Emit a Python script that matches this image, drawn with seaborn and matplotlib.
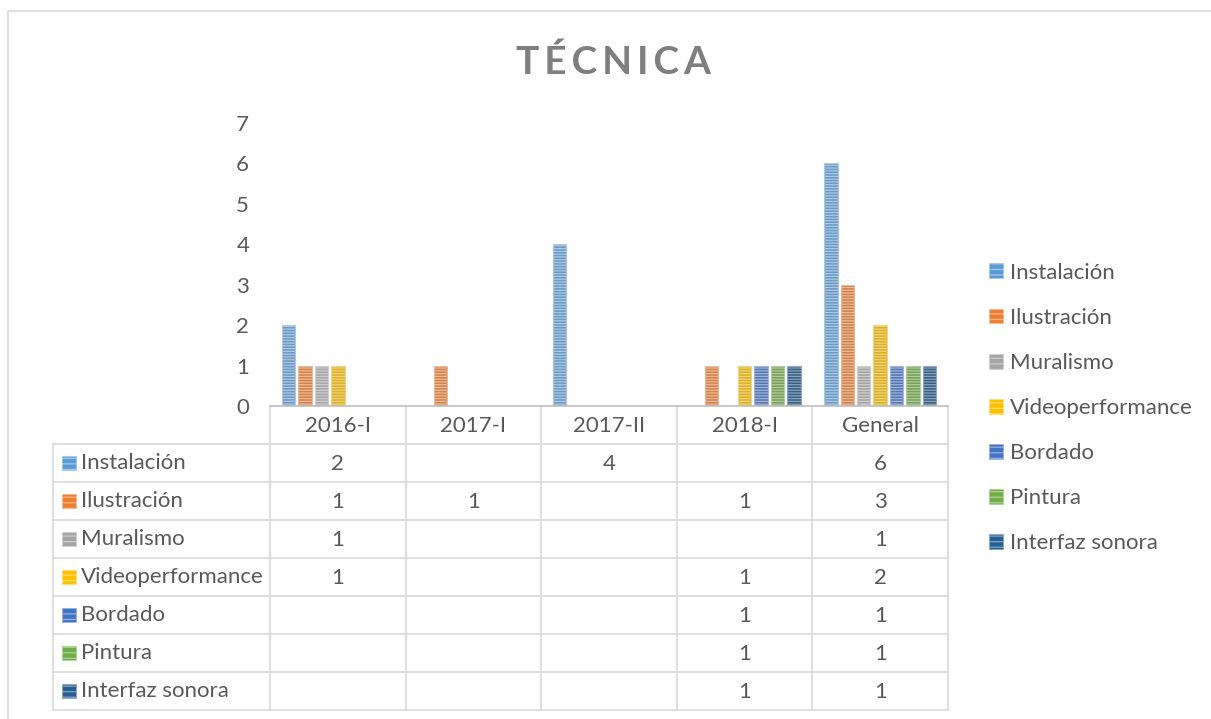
import pandas as pd
import matplotlib.pyplot as plt
import matplotlib.patches as mpatches
from matplotlib.colors import to_rgb
import seaborn as sns

periods = ['2016-I', '2017-I', '2017-II', '2018-I', 'General']
tecnicas = ['Instalación', 'Ilustración', 'Muralismo', 'Videoperformance',
            'Bordado', 'Pintura', 'Interfaz sonora']

instalacion = [2, None, 4, None, 6]
ilustracion = [1, 1, None, 1, 3]
muralismo = [1, None, None, None, 1]
videoperformance = [1, None, None, 1, 2]
bordado = [None, None, None, 1, 1]
pintura = [None, None, None, 1, 1]
interfaz = [None, None, None, 1, 1]

colors = ['#5B9BD5', '#ED7D31', '#A5A5A5', '#FFC000', '#4472C4', '#70AD47', '#255E91']

series = [instalacion, ilustracion, muralismo, videoperformance, bordado, pintura, interfaz]

rows = []
for tec, vals in zip(tecnicas, series):
    for per, v in zip(periods, vals):
        if v is not None:
            rows.append({'periodo': per, 'tecnica': tec, 'n': v})
df = pd.DataFrame(rows)

sns.set_style('white')
plt.rcParams['font.family'] = ['Lato', 'DejaVu Sans']
plt.rcParams['hatch.linewidth'] = 0.9
text_color = '#595959'
line_color = '#d9d9d9'
fs = 16


def tint(c, amount=0.45):
    r, g, b = to_rgb(c)
    return (r + (1 - r) * amount, g + (1 - g) * amount, b + (1 - b) * amount)


W, H = 1211, 719
fig = plt.figure(figsize=(W / 100, H / 100), dpi=100)

left, right = 270, 948
base, top = 406, 123
ax = fig.add_axes([left / W, 1 - base / H, (right - left) / W, (base - top) / H])

sns.barplot(data=df, x='periodo', y='n', hue='tecnica', order=periods,
            hue_order=tecnicas, palette=colors, width=0.85, gap=0.18,
            legend=False, ax=ax)

hatch = '------'
for p in ax.patches:
    fc = p.get_facecolor()
    p.set_hatch(hatch)
    p.set_edgecolor(tint(fc[:3]))
    p.set_linewidth(0.8)

ax.set_ylim(0, 7)
ax.set_yticks(range(0, 8))
ax.set_xticks([])
ax.set_xlabel('')
ax.set_ylabel('')
ax.tick_params(axis='y', length=0, pad=15, labelsize=fs, labelcolor=text_color)
for s in ['left', 'right', 'top']:
    ax.spines[s].set_visible(False)
ax.spines['bottom'].set_color('#bfbfbf')
ax.spines['bottom'].set_linewidth(1.2)

# data table under the plot
tax = fig.add_axes([0, 0, 1, 1], zorder=-1)
tax.set_xlim(0, W)
tax.set_ylim(H, 0)
tax.axis('off')

col_w = (right - left) / len(periods)
col_edges = [left + i * col_w for i in range(len(periods) + 1)]
row_h = 38
label_left = 53
row_tops = [base + row_h * (i + 1) for i in range(len(tecnicas) + 1)]
table_bottom = row_tops[-1]

for x in col_edges:
    tax.plot([x, x], [base, table_bottom], color=line_color, lw=1.2)
tax.plot([label_left, label_left], [row_tops[0], table_bottom], color=line_color, lw=1.2)
for y in row_tops:
    tax.plot([label_left, right], [y, y], color=line_color, lw=1.2)

for i, per in enumerate(periods):
    tax.text(left + (i + 0.5) * col_w, base + row_h / 2 + 1, per, ha='center',
             va='center', fontsize=fs, color=text_color)

for r, (tec, vals, c) in enumerate(zip(tecnicas, series, colors)):
    yc = row_tops[r] + row_h / 2
    tax.add_patch(mpatches.Rectangle((62, yc - 7), 14, 14, facecolor=c,
                                     edgecolor=tint(c), hatch='---', lw=0.6))
    tax.text(81, yc, tec, ha='left', va='center', fontsize=fs, color=text_color)
    for i, v in enumerate(vals):
        if v is not None:
            tax.text(left + (i + 0.5) * col_w, yc + 1, str(v), ha='center',
                     va='center', fontsize=fs, color=text_color)

# chart border
tax.add_patch(mpatches.Rectangle((8, 11), W, H, fill=False, edgecolor=line_color, lw=1.2))

fig.text(613 / W, 1 - 62 / H, '\u2009'.join('TÉCNICA'), ha='center', va='center',
         fontsize=28, fontweight='bold', color='#7f7f7f')

handles = [mpatches.Patch(facecolor=c, edgecolor=tint(c), hatch='---', lw=0.6)
           for c in colors]
fig.legend(handles, tecnicas, loc='center left', bbox_to_anchor=(989 / W, 1 - 408 / H),
           frameon=False, fontsize=fs, labelcolor=text_color, handlelength=0.65,
           handleheight=0.65, handletextpad=0.3, labelspacing=1.13,
           borderpad=0, borderaxespad=0)

fig.savefig('out.png', dpi=100)
